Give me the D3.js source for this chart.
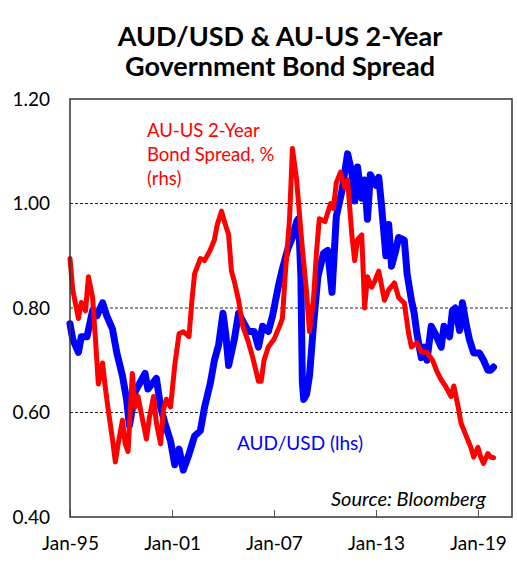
<!DOCTYPE html>
<html>
<head>
<meta charset="utf-8">
<script src="https://cdn.jsdelivr.net/npm/d3@7"></script>
<style>
html, body { margin: 0; padding: 0; background: #fff; overflow: hidden; }
svg { display: block; }
text { font-family: Lato, "Noto Sans", sans-serif; }
</style>
</head>
<body>
<script>
var width = 517, height = 563;
var margin = {top: 99, right: 5, bottom: 46, left: 70};
var innerWidth = width - margin.left - margin.right;
var innerHeight = height - margin.top - margin.bottom;

//AUD/USD, left axis
var audDates = ['1995-01','1995-03','1995-07','1995-09','1996-01','1996-05','1996-08','1996-12','1997-03','1997-07','1997-10','1998-02','1998-05','1998-07','1998-11','1999-02','1999-06','1999-08','1999-11','2000-02','2000-05','2000-08','2000-12','2001-03','2001-06','2001-09','2002-01','2002-05','2002-09','2002-12','2003-04','2003-07','2003-10','2004-01','2004-03','2004-05','2004-09','2004-12','2005-03','2005-07','2005-11','2006-02','2006-05','2006-09','2006-12','2007-04','2007-07','2007-11','2008-02','2008-05','2008-06','2008-07','2008-08','2008-09','2008-10','2008-12','2009-02','2009-05','2009-08','2009-12','2010-03','2010-06','2010-09','2011-01','2011-05','2011-08','2011-10','2011-12','2012-03','2012-05','2012-07','2012-09','2013-01','2013-03','2013-05','2013-08','2013-10','2013-12','2014-03','2014-05','2014-09','2014-11','2015-02','2015-04','2015-06','2015-09','2015-11','2016-01','2016-04','2016-07','2016-11','2017-01','2017-05','2017-07','2017-09','2017-12','2018-02','2018-05','2018-07','2018-10','2019-02','2019-05','2019-08','2019-10','2019-12'];
var audValues = [0.77,0.74,0.715,0.745,0.745,0.795,0.785,0.81,0.785,0.76,0.715,0.67,0.625,0.575,0.64,0.655,0.675,0.645,0.655,0.665,0.61,0.58,0.545,0.50,0.53,0.49,0.52,0.555,0.565,0.61,0.655,0.70,0.73,0.79,0.75,0.69,0.74,0.79,0.775,0.755,0.755,0.725,0.765,0.755,0.785,0.84,0.875,0.915,0.935,0.965,0.97,0.93,0.86,0.66,0.625,0.635,0.67,0.77,0.86,0.905,0.91,0.83,0.975,1.025,1.095,1.06,1.005,1.07,1.01,1.045,0.97,1.055,1.035,1.05,0.995,0.90,0.96,0.88,0.91,0.935,0.93,0.865,0.815,0.79,0.75,0.705,0.725,0.70,0.765,0.75,0.725,0.765,0.745,0.795,0.80,0.757,0.81,0.765,0.74,0.714,0.714,0.70,0.681,0.681,0.687];

//AU-US 2-year spread in %, right axis (not labelled)
var spreadDates = ['1995-01','1995-03','1995-07','1995-09','1995-12','1996-02','1996-05','1996-07','1996-09','1996-12','1997-02','1997-04','1997-07','1997-09','1997-11','1998-02','1998-04','1998-06','1998-09','1998-11','1999-01','1999-04','1999-07','1999-09','1999-12','2000-02','2000-05','2000-07','2000-09','2000-12','2001-03','2001-06','2001-09','2002-01','2002-03','2002-05','2002-09','2002-12','2003-04','2003-07','2003-09','2003-12','2004-02','2004-05','2004-07','2004-09','2004-12','2005-03','2005-07','2005-10','2006-02','2006-04','2006-06','2006-09','2007-01','2007-05','2007-07','2007-09','2007-12','2008-02','2008-05','2008-07','2008-09','2008-12','2009-02','2009-05','2009-07','2009-09','2010-01','2010-05','2010-07','2010-09','2010-12','2011-03','2011-05','2011-08','2011-10','2011-12','2012-03','2012-05','2012-07','2012-10','2012-12','2013-03','2013-07','2013-10','2014-02','2014-05','2014-09','2014-12','2015-02','2015-06','2015-09','2016-01','2016-05','2016-08','2016-11','2017-02','2017-06','2017-08','2017-11','2018-01','2018-05','2018-08','2018-10','2019-01','2019-03','2019-05','2019-08','2019-10','2019-12'];
var spreadValues = [2.21,1.76,1.35,1.58,1.46,1.95,1.65,1.05,0.41,0.71,0.34,0.04,-0.38,-0.71,-0.45,-0.11,-0.45,-0.56,0.56,0.08,0.23,-0.08,-0.38,-0.08,0.23,-0.15,-0.45,0.04,0.19,0.08,0.68,1.13,1.16,1.09,1.58,1.99,2.21,2.18,2.33,2.48,2.70,2.89,2.74,2.55,2.03,1.88,1.61,1.24,1.01,0.79,0.45,0.45,0.75,0.94,1.05,1.24,1.35,1.99,2.78,3.79,3.34,2.85,2.36,1.73,1.16,1.65,2.29,2.78,2.74,3.0,2.93,3.30,3.45,3.23,3.34,2.55,2.18,2.48,2.55,1.5,1.95,1.8,1.88,2.03,1.61,1.76,1.86,1.65,1.57,1.14,0.94,1.0,0.87,0.86,0.75,0.59,0.47,0.38,0.23,0.38,0.08,-0.15,-0.35,-0.5,-0.64,-0.5,-0.64,-0.73,-0.59,-0.64,-0.65];

var leftTicks = [0.40, 0.60, 0.80, 1.00, 1.20];
var gridTicks = [0.60, 0.80, 1.00];
var xTickDates = ['1995-01','2001-01','2007-01','2013-01','2019-01'];
var titleLines = ['AUD/USD & AU-US 2-Year', 'Government Bond Spread'];
var spreadLabel = ['AU-US 2-Year', 'Bond Spread, %', '(rhs)'];

var parse = d3.timeParse('%Y-%m');
var aud = audDates.map(function(d, i) { return {date: parse(d), value: audValues[i]}; });
var spread = spreadDates.map(function(d, i) { return {date: parse(d), value: spreadValues[i]}; });

var svg = d3.select('body').append('svg')
	.attr('width', width)
	.attr('height', height);

var xScale = d3.scaleTime().domain([parse('1995-01'), parse('2021-01')]).range([0, innerWidth]);
var yScale = d3.scaleLinear().domain([0.40, 1.20]).range([innerHeight, 0]);
//Right hand scale lines up with the left one, its labels are not shown on the chart.
var yRight = d3.scaleLinear().domain([-1.5, 4.5]).range([innerHeight, 0]);

//Title
svg.append('text')
	.attr('text-anchor', 'middle')
	.style('font-size', '27px')
	.style('font-weight', 'bold')
	.selectAll('tspan').data(titleLines).enter().append('tspan')
		.attr('x', 280)
		.attr('y', function(d, i) { return 46 + i * 30; })
		.text(function(d) { return d; });

var inner = svg.append('g')
	.attr('transform', 'translate(' + margin.left + ',' + margin.top + ')');

//Dashed gridlines
inner.selectAll('.grid').data(gridTicks).enter().append('line')
	.attr('class', 'grid')
	.attr('x1', 0)
	.attr('x2', innerWidth)
	.attr('y1', function(d) { return yScale(d); })
	.attr('y2', function(d) { return yScale(d); })
	.style('stroke', '#222')
	.style('stroke-width', 1)
	.style('stroke-dasharray', '3,2');

//Left axis, labels only
var yAxis = inner.append('g')
	.call(d3.axisLeft(yScale).tickValues(leftTicks).tickFormat(d3.format('.2f')).tickSize(0).tickPadding(20));
yAxis.select('.domain').remove();
yAxis.selectAll('text').style('font-size', '19px').style('font-family', 'Lato').attr('fill', '#000');

//Bottom axis with small inward ticks
var xAxis = inner.append('g')
	.attr('transform', 'translate(0,' + innerHeight + ')')
	.call(d3.axisBottom(xScale).tickValues(xTickDates.map(parse)).tickFormat(d3.timeFormat('%b-%y')).tickSize(-7).tickPadding(20));
xAxis.select('.domain').remove();
xAxis.selectAll('line').style('stroke', '#555');
xAxis.selectAll('text').style('font-size', '19px').style('font-family', 'Lato').attr('fill', '#000');

//Lines
var audLine = d3.line()
	.x(function(d) { return xScale(d.date); })
	.y(function(d) { return yScale(d.value); });
var spreadLine = d3.line()
	.x(function(d) { return xScale(d.date); })
	.y(function(d) { return yRight(d.value); });

inner.append('path').datum(aud)
	.attr('d', audLine)
	.style('fill', 'none')
	.style('stroke', '#0000ff')
	.style('stroke-width', 7)
	.style('stroke-linejoin', 'round')
	.style('stroke-linecap', 'round');
inner.append('path').datum(spread)
	.attr('d', spreadLine)
	.style('fill', 'none')
	.style('stroke', '#ff0000')
	.style('stroke-width', 5)
	.style('stroke-linejoin', 'round')
	.style('stroke-linecap', 'round');

//Frame
inner.append('rect')
	.attr('width', innerWidth)
	.attr('height', innerHeight)
	.style('fill', 'none')
	.style('stroke', '#333')
	.style('stroke-width', 1.5);

//Annotations
svg.append('text')
	.style('font-size', '18.5px')
	.attr('fill', '#ff0000')
	.selectAll('tspan').data(spreadLabel).enter().append('tspan')
		.attr('x', 147)
		.attr('y', function(d, i) { return 137 + i * 24; })
		.text(function(d) { return d; });
svg.append('text')
	.attr('x', 237)
	.attr('y', 450)
	.style('font-size', '19px')
	.attr('fill', '#0000ff')
	.text('AUD/USD (lhs)');
svg.append('text')
	.attr('x', 486)
	.attr('y', 506)
	.attr('text-anchor', 'end')
	.style('font-size', '20px')
	.style('font-style', 'italic')
	.attr('fill', '#000')
	.text('Source: Bloomberg');
</script>
</body>
</html>
